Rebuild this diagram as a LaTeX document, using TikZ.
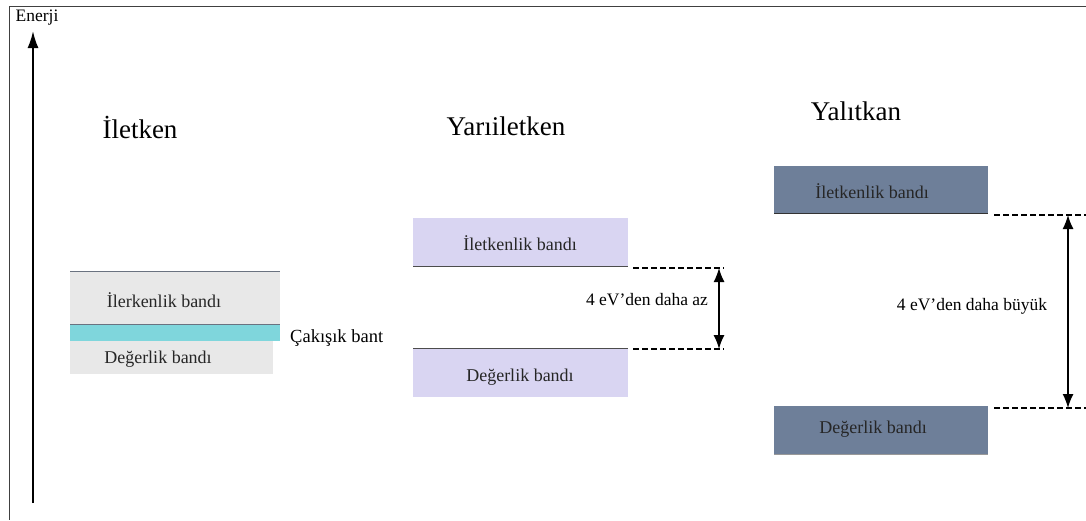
\documentclass[tikz,border=0pt]{standalone}
\usepackage{fontspec}
\setmainfont{Liberation Serif}
\usetikzlibrary{arrows.meta}
\definecolor{condgray}{HTML}{E8E8E8}
\definecolor{overlapc}{HTML}{7FD6DC}
\definecolor{lav}{HTML}{D9D5F2}
\definecolor{slate}{HTML}{6E7F99}
\definecolor{edgec}{HTML}{6A7280}
\tikzset{
  title/.style={font=\fontsize{27}{30}\selectfont, inner sep=0pt},
  bandlbl/.style={font=\fontsize{18}{20}\selectfont, inner sep=0pt, text=black!85},
  gaplbl/.style={font=\fontsize{17.5}{20}\selectfont, inner sep=0pt},
  dashline/.style={line width=1.6pt, dash pattern=on 6pt off 3pt},
  gaparrow/.style={line width=1.4pt, {Latex[length=14pt,width=11pt]}-{Latex[length=14pt,width=11pt]}},
}
\begin{document}
\begin{tikzpicture}[x=1pt,y=-1pt]
\useasboundingbox (0,0) rectangle (1086,520);
% frame
\draw[line width=1pt, black!75] (1086,6) -- (9,6) -- (9,520);
% energy axis
\coordinate (ebot) at (33,503);
\coordinate (etop) at (33,31);
\draw[line width=2pt, -{Latex[length=17pt,width=11pt]}] (ebot) -- (etop);
\node[font=\fontsize{17.5}{20}\selectfont, inner sep=0pt] (enerji) at (37,18) {Enerji};

% titles
\node[title] (t1) at (140,127) {İletken};
\node[title] (t2) at (506,126) {Yarıiletken};
\node[title] (t3) at (856,111) {Yalıtkan};

% conductor
\fill[condgray] (70,271) rectangle (280,325);
\draw[edgec, line width=0.6pt] (70,271) -- (280,271);
\fill[condgray] (70,341) rectangle (273,374);
\fill[overlapc] (70,324) rectangle (280,341);
\draw[edgec, line width=0.6pt] (70,324) -- (280,324);
\node[bandlbl] (c1) at (164,300) {İlerkenlik bandı};
\node[bandlbl] (c2) at (158,359) {Değerlik bandı};
\node[gaplbl, font=\fontsize{18.5}{20}\selectfont, anchor=west] (cak) at (290,338) {Çakışık bant};

% semiconductor
\fill[lav] (413,218) rectangle (628,266);
\draw[black!70, line width=0.8pt] (413,266) -- (628,266);
\fill[lav] (413,348) rectangle (628,397);
\draw[black!70, line width=0.8pt] (413,348) -- (628,348);
\node[bandlbl] (s1) at (520,243) {İletkenlik bandı};
\node[bandlbl] (s2) at (520,377) {Değerlik bandı};
\coordinate (s1a) at (633,268);
\coordinate (s1b) at (724,268);
\coordinate (s2a) at (633,349);
\coordinate (s2b) at (724,349);
\draw[dashline] (s1a) -- (s1b);
\draw[dashline] (s2a) -- (s2b);
\coordinate (sg1) at (719,268);
\coordinate (sg2) at (719,349);
\draw[gaparrow] (sg1) -- (sg2);
\node[gaplbl] (sgl) at (647,300) {4 eV’den daha az};

% insulator
\fill[slate] (774,166) rectangle (988,213);
\draw[black!80, line width=0.8pt] (774,213) -- (988,213);
\fill[slate] (774,406) rectangle (988,454);
\draw[black!40, line width=0.8pt] (774,454) -- (988,454);
\node[bandlbl] (i1) at (872,191) {İletkenlik bandı};
\node[bandlbl] (i2) at (873,429) {Değerlik bandı};
\coordinate (i1a) at (994,215);
\coordinate (i1b) at (1086,215);
\coordinate (i2a) at (994,408);
\coordinate (i2b) at (1086,408);
\draw[dashline] (i1a) -- (i1b);
\draw[dashline] (i2a) -- (i2b);
\coordinate (ig1) at (1068,215);
\coordinate (ig2) at (1068,408);
\draw[gaparrow] (ig1) -- (ig2);
\node[gaplbl] (igl) at (972,306) {4 eV’den daha büyük};
\end{tikzpicture}
\end{document}
